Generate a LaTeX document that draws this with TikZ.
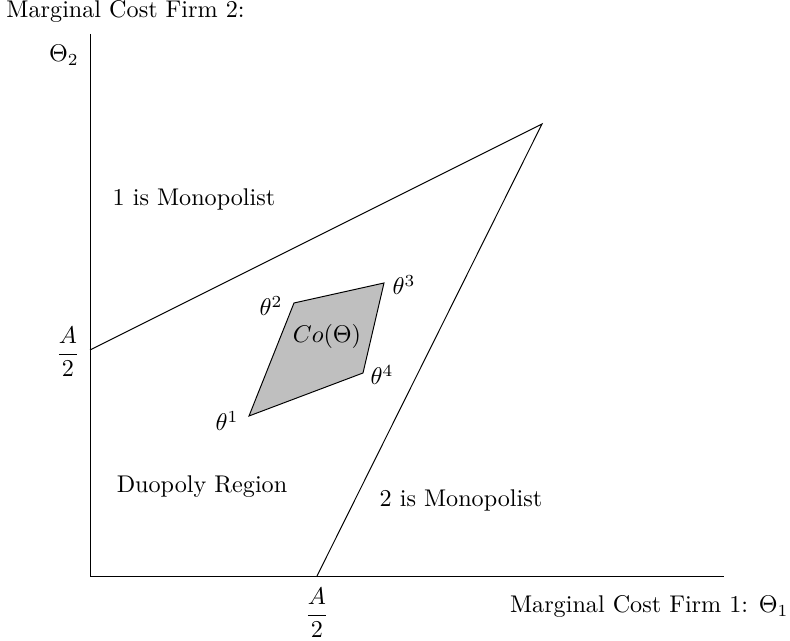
\documentclass[tikz,border=0pt]{standalone}
\usetikzlibrary{positioning}
\begin{document}
\begin{tikzpicture}[
  x=0.414pt, y=-0.414pt,
  axis/.style={draw=black, line width=0.4pt},
  bound/.style={draw=black, line width=0.4pt},
  region/.style={font=\normalsize, inner sep=0pt, anchor=base},
  vertex/.style={font=\normalsize, inner sep=1pt},
  hull/.style={draw=black, line width=0.4pt, fill=black!25}
]
\useasboundingbox (0,0) rectangle (790,641);

% ---- axes ----
\coordinate (origin) at (90,576);
\coordinate (ytop) at (90,34);
\coordinate (xend) at (724,576);
\draw[axis] (ytop) -- (origin) -- (xend);

% ---- boundary lines ----
\coordinate (yhalf) at (90,350);
\coordinate (xhalf) at (317,576);
\coordinate (peak) at (542,124);
\draw[bound] (yhalf) -- (peak) -- (xhalf);

% ---- convex hull ----
\coordinate (t1) at (249,416);
\coordinate (t2) at (294,303);
\coordinate (t3) at (384,283);
\coordinate (t4) at (363,373);
\draw[hull] (t1) -- (t2) -- (t3) -- (t4) -- cycle;

% ---- labels ----
\node[anchor=base west, inner sep=0pt] (ylab) at (6,18) {Marginal Cost Firm 2:};
\node (theta2) at (64,55) {$\Theta_2$};
\node (ahalfy) at (68,352) {$\displaystyle\frac{A}{2}$};
\node (ahalfx) at (317,613) {$\displaystyle\frac{A}{2}$};
\node[anchor=base east, inner sep=0pt] (xlab) at (789,613) {Marginal Cost Firm 1: $\Theta_1$};

\node[region] (mono1) at (194,206) {1 is Monopolist};
\node[region] (duo) at (202,493) {Duopoly Region};
\node[region] (mono2) at (461,507) {2 is Monopolist};
\node[region] (co) at (327,343) {$Co(\Theta)$};

\node[vertex] (lt1) at (227,421) {$\theta^1$};
\node[vertex] (lt2) at (271,306) {$\theta^2$};
\node[vertex] (lt3) at (404,285) {$\theta^3$};
\node[vertex] (lt4) at (382,375) {$\theta^4$};
\end{tikzpicture}
\end{document}
